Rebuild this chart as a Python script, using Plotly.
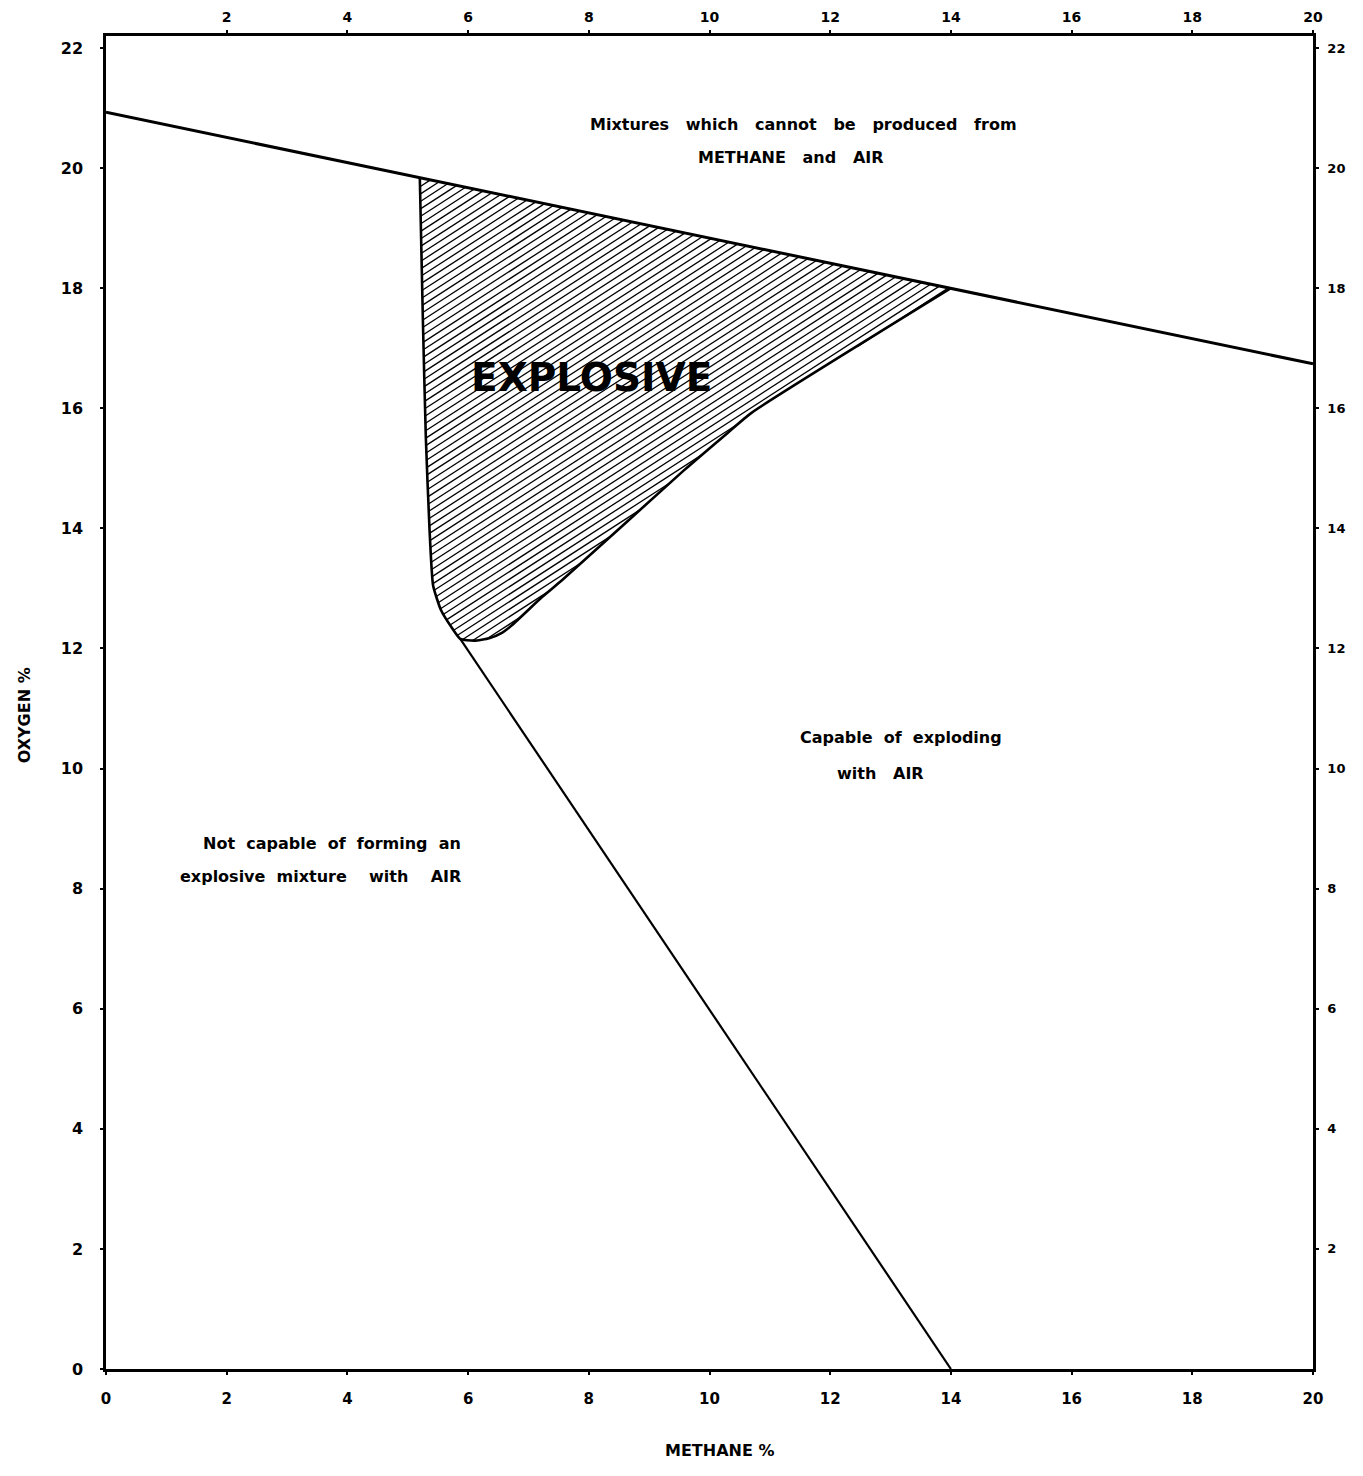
import numpy as np
import plotly.graph_objects as go

# Methane / oxygen explosibility diagram (Coward triangle)

# Air dilution line: oxygen left when methane is mixed into air
air_ch4 = [0.0, 20.0]
air_o2 = [20.93, 16.74]

# Boundary of the explosive zone (lower side), from the lower limit round the nose to the upper limit
explosive_ch4 = [5.2, 5.25, 5.3, 5.36, 5.42, 5.55, 5.72, 5.87, 6.10, 6.35, 6.56,
                 6.73, 7.23, 7.56, 9.58, 10.30, 10.69, 14.0]
explosive_o2 = [19.84, 17.5, 15.5, 14.0, 13.05, 12.64, 12.36, 12.16, 12.13, 12.17, 12.26,
                12.39, 12.86, 13.14, 14.97, 15.59, 15.92, 18.0]

# Line from the nose of the zone down to zero oxygen
nose_ch4 = [5.87, 14.0]
nose_o2 = [12.16, 0.0]

x_ticks = [0, 2, 4, 6, 8, 10, 12, 14, 16, 18, 20]
y_ticks = [0, 2, 4, 6, 8, 10, 12, 14, 16, 18, 20, 22]
top_ticks = [2, 4, 6, 8, 10, 12, 14, 16, 18, 20]
right_ticks = [2, 4, 6, 8, 10, 12, 14, 16, 18, 20, 22]

FONT = "DejaVu Sans, Verdana, sans-serif"


def hatch_segments(px, py, slope, step):
    """Clip parallel lines y = slope*x + c to a closed polygon; return x, y lists with gaps."""
    px = np.asarray(px, float)
    py = np.asarray(py, float)
    qx = np.roll(px, -1)
    qy = np.roll(py, -1)
    c_all = py - slope * px
    xs, ys = [], []
    for c in np.arange(c_all.min() + step / 2, c_all.max(), step):
        hits = []
        for x1, y1, x2, y2 in zip(px, py, qx, qy):
            f1 = y1 - slope * x1 - c
            f2 = y2 - slope * x2 - c
            if f1 == f2 or f1 * f2 > 0:
                continue
            t = f1 / (f1 - f2)
            hits.append(x1 + t * (x2 - x1))
        hits.sort()
        for a, b in zip(hits[0::2], hits[1::2]):
            xs += [a, b, None]
            ys += [slope * a + c, slope * b + c, None]
    return xs, ys


# closed outline of the explosive zone: lower boundary, then back along the air line
hx, hy = hatch_segments(explosive_ch4, explosive_o2, slope=0.65, step=0.125)

fig = go.Figure()

fig.add_trace(go.Scatter(x=hx, y=hy, mode="lines",
                         line=dict(color="black", width=1.3),
                         hoverinfo="skip", showlegend=False))
fig.add_trace(go.Scatter(x=explosive_ch4, y=explosive_o2, mode="lines",
                         line=dict(color="black", width=2.6, shape="spline", smoothing=0.5),
                         showlegend=False))
fig.add_trace(go.Scatter(x=nose_ch4, y=nose_o2, mode="lines",
                         line=dict(color="black", width=2.2), showlegend=False))
fig.add_trace(go.Scatter(x=air_ch4, y=air_o2, mode="lines",
                         line=dict(color="black", width=3), showlegend=False))
# invisible trace holding the top / right axes
fig.add_trace(go.Scatter(x=[0, 20], y=[0, 22.2], xaxis="x2", yaxis="y2", mode="markers",
                         marker=dict(opacity=0), hoverinfo="skip", showlegend=False))

nb = "\u00a0"
sp2 = nb * 2
sp3 = nb * 3
texts = [
    (11.55, 20.73, sp3.join(["Mixtures", "which", "cannot", "be", "produced", "from"]), "center"),
    (11.35, 20.17, sp3.join(["METHANE", "and", "AIR"]), "center"),
    (13.17, 10.51, sp2.join(["Capable", "of", "exploding"]), "center"),
    (12.84, 9.92, sp3.join(["with", "AIR"]), "center"),
    (5.91, 8.76, sp2.join(["Not", "capable", "of", "forming", "an"]), "right"),
    (5.91, 8.21, sp2.join(["explosive", "mixture", "", "with", "", "AIR"]), "right"),
]
for x, y, t, anchor in texts:
    fig.add_annotation(x=x, y=y, text=t, showarrow=False, xanchor=anchor, yanchor="middle",
                       font=dict(family=FONT, size=16, color="black", weight="bold"))

fig.add_annotation(x=8.05, y=16.52, text="EXPLOSIVE", showarrow=False,
                   font=dict(family=FONT, size=39, color="black", weight="bold"))

fig.add_annotation(xref="paper", yref="paper", x=0.508, y=0, yshift=-93, text="METHANE\u00a0%",
                   showarrow=False, font=dict(family=FONT, size=16, color="black", weight="bold"))
fig.add_annotation(xref="paper", yref="paper", x=0, xshift=-93, y=0.49, text="OXYGEN\u00a0%",
                   textangle=-90, showarrow=False,
                   font=dict(family=FONT, size=16, color="black", weight="bold"))

axis_common = dict(showgrid=False, zeroline=False, showline=True, linecolor="black",
                   linewidth=2.5, ticks="outside", ticklen=3, tickwidth=2, tickcolor="black",
                   automargin=False)

fig.update_layout(
    width=1363, height=1476,
    margin=dict(l=106, r=50, t=36, b=107),
    paper_bgcolor="white", plot_bgcolor="white",
    xaxis=dict(range=[0, 20], tickvals=x_ticks, ticktext=[str(v) for v in x_ticks],
               ticklabelstandoff=11,
               tickfont=dict(family=FONT, size=15, color="black", weight="bold"), **axis_common),
    yaxis=dict(range=[0, 22.2], tickvals=y_ticks, ticktext=[str(v) for v in y_ticks],
               ticklabelstandoff=14,
               tickfont=dict(family=FONT, size=16, color="black", weight="bold"), **axis_common),
    xaxis2=dict(range=[0, 20], overlaying="x", side="top", anchor="y",
                tickvals=top_ticks, ticktext=[str(v) for v in top_ticks],
                ticklabelstandoff=3,
                tickfont=dict(family=FONT, size=14, color="black", weight="bold"), **axis_common),
    yaxis2=dict(range=[0, 22.2], overlaying="y", side="right", anchor="x",
                tickvals=right_ticks, ticktext=[str(v) for v in right_ticks],
                ticklabelstandoff=6,
                tickfont=dict(family=FONT, size=13, color="black", weight="bold"), **axis_common),
    showlegend=False,
)

fig.write_html("out.html")
